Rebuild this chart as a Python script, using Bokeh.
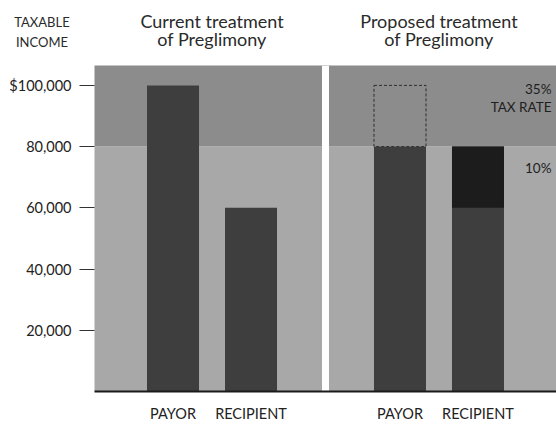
from bokeh.plotting import figure
from bokeh.models import FactorRange, Range1d, FixedTicker, Label, ColumnDataSource
from bokeh.core.properties import value
from bokeh.embed import file_html
from bokeh.resources import INLINE

# ---------------- data ----------------
scenarios = ["current", "proposed"]
scenario_titles = [["Current treatment", "of Preglimony"], ["Proposed treatment", "of Preglimony"]]
categories = ["PAYOR", "RECIPIENT"]
current_income = [100000, 60000]
proposed_income = [80000, 80000]
original_income = [100000, 60000]      # before the proposed split
bracket_threshold = 80000
tick_values = [20000, 40000, 60000, 80000, 100000]
tick_labels = ["20,000", "40,000", "60,000", "80,000", "$100,000"]
y_header = ["TAXABLE", "INCOME"]
rate_high = ["35%", "TAX RATE"]
rate_low = ["10%"]

# ---------------- layout constants ----------------
FONT = "Lato"
W, H = 556, 424
HEADER_H = 65
FRAME_LEFT = 94
FRAME_BOTTOM = 393
FRAME_H = FRAME_BOTTOM - HEADER_H
Y_MAX = 106500
GROUP_PAD = 0.91
FRAME_W = W - FRAME_LEFT
N_FACT = 2 * len(categories) + GROUP_PAD
SIDE_PAD = (FRAME_W / 78.0 - N_FACT) / 2
U = FRAME_W / (N_FACT + 2 * SIDE_PAD)

def sx(page_x):
    return (page_x - FRAME_LEFT) / U - SIDE_PAD

def sy(page_y):
    return (FRAME_BOTTOM - page_y) * Y_MAX / FRAME_H

factors = [(s, c) for s in scenarios for c in categories]
x_range = FactorRange(*factors, factor_padding=0, group_padding=GROUP_PAD,
                      range_padding=SIDE_PAD, range_padding_units="absolute")

# ---------------- header (titles) ----------------
hdr = figure(width=W, height=HEADER_H, x_range=Range1d(sx(0), sx(W)), y_range=Range1d(HEADER_H, 0),
             output_backend="svg", toolbar_location=None,
             min_border_left=0, min_border_right=0, min_border_top=0, min_border_bottom=0)
hdr.title.visible = False
hdr.axis.visible = False
hdr.grid.visible = False
hdr.outline_line_color = None

title_x, title_y, title_t = [], [], []
for i, lines in enumerate(scenario_titles):
    gc = 1.0 + i * (len(categories) + GROUP_PAD)
    for line, base in zip(lines, [20.5, 38.5]):
        title_x.append(gc); title_y.append(base); title_t.append(line)
hdr.text(x=title_x, y=title_y, text=title_t, text_align="center", text_baseline="alphabetic",
         text_font=value(FONT), text_font_size="18px", text_color="#2a2a2a")
hdr.text(x=[sx(41.5)] * 2, y=[21, 41.5], text=y_header, text_align="center",
         text_baseline="alphabetic", text_font=value(FONT), text_font_size="13px",
         text_color="#2a2a2a")

# ---------------- main chart ----------------
p = figure(width=W, height=H - HEADER_H, x_range=x_range, y_range=Range1d(0, Y_MAX),
           output_backend="svg", toolbar_location=None,
           min_border_left=FRAME_LEFT, min_border_right=0, min_border_top=0,
           min_border_bottom=H - FRAME_BOTTOM)
p.title.visible = False
p.outline_line_color = None
p.xgrid.visible = False
p.ygrid.visible = False
p.background_fill_color = "white"
p.border_fill_color = "white"

# background tax bands
p.quad(left=[-10, -10], right=[20, 20], bottom=[0, bracket_threshold],
       top=[bracket_threshold, Y_MAX * 2], fill_color=["#a8a8a8", "#8c8c8c"], line_color=None)

# white gap between panels (between the two groups)
gap_center = len(categories) + GROUP_PAD / 2
p.vbar(x=[gap_center], width=7 / U, bottom=-Y_MAX, top=Y_MAX * 2, fill_color="white", line_color=None)

BAR_W = 52 / U
cur_src = ColumnDataSource(dict(x=[("current", c) for c in categories], top=current_income))
p.vbar(x="x", top="top", width=BAR_W, source=cur_src, fill_color="#3e3e3e", line_color=None)

prop_src = ColumnDataSource(dict(x=[("proposed", c) for c in categories], top=proposed_income))
p.vbar(x="x", top="top", width=BAR_W, source=prop_src, fill_color="#3e3e3e", line_color=None)

shift_x, shift_bottom, shift_top = [], [], []
dash_x, dash_bottom, dash_top = [], [], []
for c, orig, new in zip(categories, original_income, proposed_income):
    if new > orig:
        shift_x.append(("proposed", c)); shift_bottom.append(orig); shift_top.append(new)
    elif orig > new:
        dash_x.append(("proposed", c)); dash_bottom.append(new); dash_top.append(orig)
p.vbar(x=shift_x, bottom=shift_bottom, top=shift_top, width=BAR_W,
       fill_color="#1c1c1c", line_color=None)
p.vbar(x=dash_x, bottom=dash_bottom, top=dash_top, width=BAR_W,
       fill_color=None, line_color="#2e2e2e", line_width=1, line_dash="3 2")

# y axis
yax = p.yaxis[0]
yax.ticker = FixedTicker(ticks=tick_values)
yax.major_label_overrides = {v: l for v, l in zip(tick_values, tick_labels)}
yax.axis_line_color = None
yax.minor_tick_line_color = None
yax.major_tick_in = 0
yax.major_tick_out = 15
yax.major_tick_line_color = "#333333"
yax.major_tick_line_width = 1
yax.major_label_standoff = 8
yax.major_label_text_font = FONT
yax.major_label_text_font_size = "14.5px"
yax.major_label_text_color = "#222222"

# x axis
xax = p.xaxis[0]
xax.axis_line_color = "#1a1a1a"
xax.axis_line_width = 2
xax.major_tick_line_color = None
xax.minor_tick_line_color = None
xax.major_label_standoff = 7
xax.major_label_text_font = FONT
xax.major_label_text_font_size = "14.5px"
xax.major_label_text_color = "#222222"
xax.group_text_font_size = "0px"
xax.group_text_color = None
xax.separator_line_color = None

for line, base in zip(rate_high + rate_low, [88.5, 107, 168]):
    p.add_layout(Label(x=sx(551), y=sy(base), text=line, text_align="right",
                       text_baseline="alphabetic", text_font=FONT,
                       text_font_size="13.5px", text_color="#1e1e1e"))

open("out.html", "w").write(file_html([hdr, p], INLINE))
